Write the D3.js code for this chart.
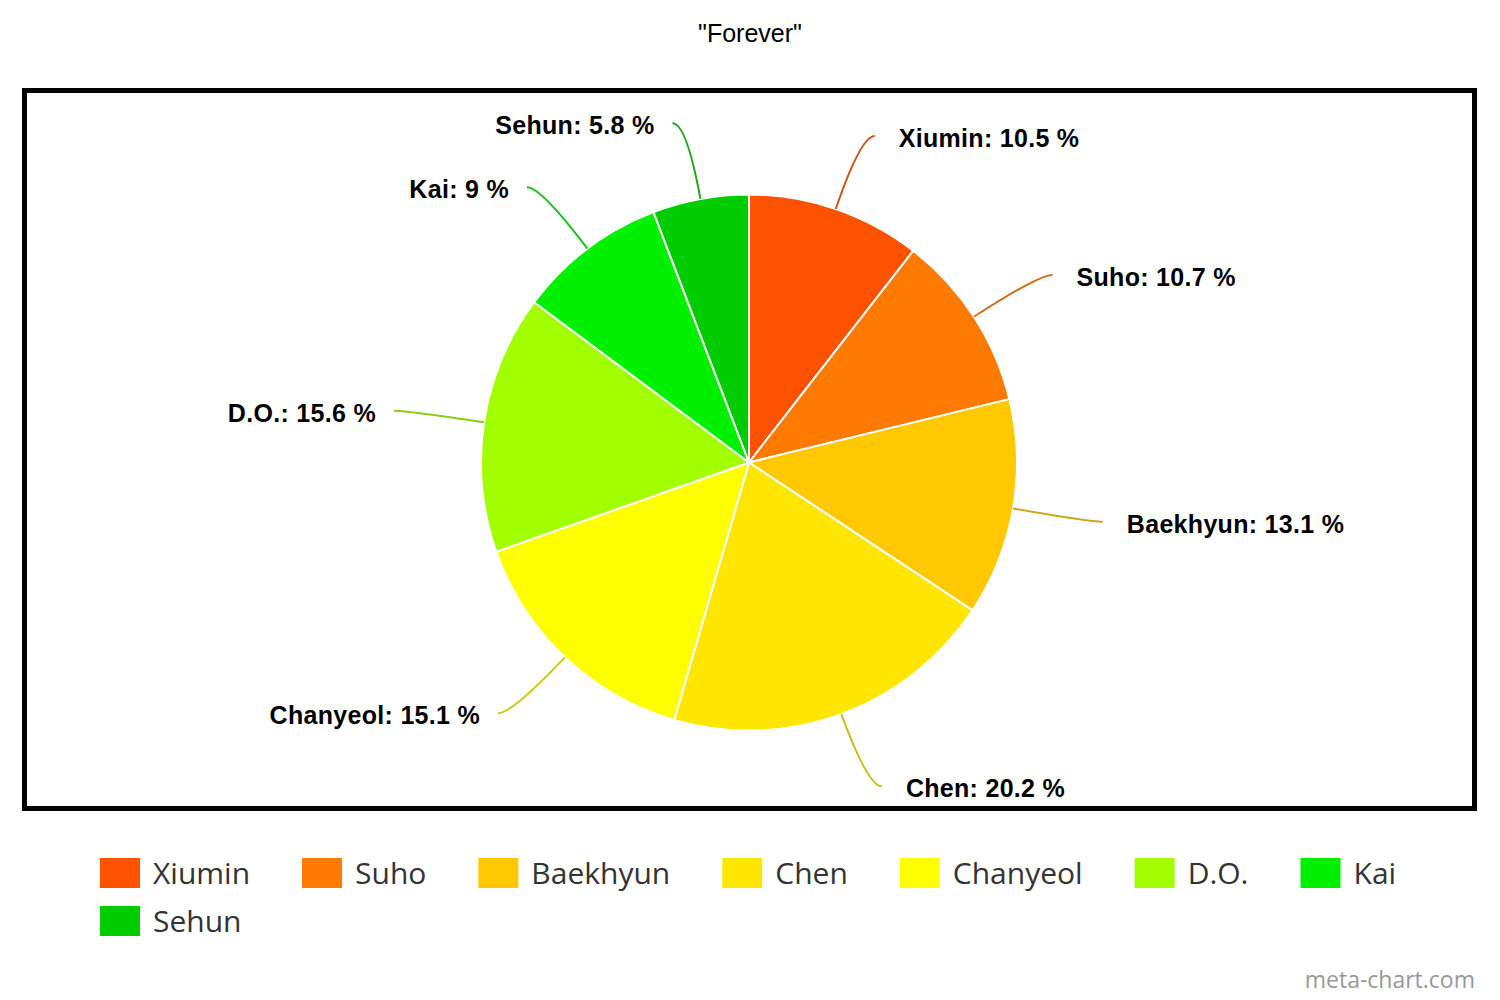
<!DOCTYPE html>
<html>
	<head>
		<title>Forever</title>

		<style>
			body
			{
				margin: 0;
				background: #ffffff;
			}

			svg
			{
				width: 1500px;
				height: 1000px;
				display: block;
			}

			.chartTitle
			{
				font: 25px "Liberation Sans", Arial, sans-serif;
				fill: #000000;
				text-anchor: middle;
			}

			.chartBorder
			{
				fill: none;
				stroke: #000000;
				stroke-width: 5px;
			}

			.slice
			{
				stroke: #ffffff;
				stroke-width: 2px;
			}

			.connector
			{
				fill: none;
				stroke-width: 2px;
			}

			.sliceLabel
			{
				font: bold 25px "Liberation Sans", Arial, sans-serif;
				fill: #000000;
				letter-spacing: 0.3px;
			}

			.legendText
			{
				font: 30px "Open Sans", sans-serif;
				fill: #333333;
			}

			.credit
			{
				font: 23px "Open Sans", sans-serif;
				fill: #999999;
				text-anchor: end;
			}
		</style>

		<script src="https://d3js.org/d3.v7.min.js"></script>
	</head>

	<body>
		<svg></svg>

		<script>
			// chart data
			var members = ["Xiumin", "Suho", "Baekhyun", "Chen", "Chanyeol", "D.O.", "Kai", "Sehun"];
			var percents = [10.5, 10.7, 13.1, 20.2, 15.1, 15.6, 9, 5.8];
			var sliceColors = ["#ff5200", "#ff7a00", "#ffc800", "#ffe600", "#ffff00", "#a2ff00", "#00f000", "#00cc00"];
			var titleText = "\"Forever\"";

			let pieChart =
			{
				cx: 749,
				cy: 462.5,
				radius: 268,
				drawChart: function()
				{
					var svg = d3.select("svg");
					svg.html("");

					svg.append("text")
					.attr("class", "chartTitle")
					.attr("x", 750)
					.attr("y", 42)
					.text(titleText);

					svg.append("rect")
					.attr("class", "chartBorder")
					.attr("x", 24.5)
					.attr("y", 90.5)
					.attr("width", 1450)
					.attr("height", 718);

					this.drawSlices(svg);
					this.drawLegend(svg);

					svg.append("text")
					.attr("class", "credit")
					.attr("x", 1475)
					.attr("y", 988)
					.text("meta-chart.com");
				},
				drawSlices: function(svg)
				{
					var r = this.radius;
					var color = d3.scaleOrdinal().domain(members).range(sliceColors);

					var pie = d3.pie()
					.sort(null)
					.value(function(d) { return d.value; });

					var arc = d3.arc().innerRadius(0).outerRadius(r);

					var rows = members.map(function(m, i)
					{
						return { name: m, value: percents[i] };
					});
					var arcs = pie(rows);

					var g = svg.append("g")
					.attr("transform", "translate(" + this.cx + "," + this.cy + ")");

					g.selectAll("path.slice")
					.data(arcs)
					.enter()
					.append("path")
					.attr("class", "slice")
					.attr("fill", function(d) { return color(d.data.name); })
					.attr("d", arc);

					// connector geometry: radial out from edge, bending to horizontal
					function geom(d)
					{
						var a = (d.startAngle + d.endAngle) / 2;
						var sx = Math.sin(a), sy = -Math.cos(a);
						var side = sx >= 0 ? 1 : -1;
						var p0 = [sx * r, sy * r];
						var c = [sx * 345, sy * 345];
						var e = [c[0] + side * 14, c[1]];
						return { p0: p0, c: c, e: e, side: side };
					}

					g.selectAll("path.connector")
					.data(arcs)
					.enter()
					.append("path")
					.attr("class", "connector")
					.attr("stroke", function(d)
					{
						// muted, slightly darker tone of the slice colour
						var base = d3.color(color(d.data.name)).darker(0.4);
						return d3.interpolateRgb(base, "#888888")(0.2);
					})
					.attr("d", function(d)
					{
						var k = geom(d);
						return "M" + k.p0[0] + "," + k.p0[1] +
							"Q" + k.c[0] + "," + k.c[1] + " " + k.e[0] + "," + k.e[1];
					});

					g.selectAll("text.sliceLabel")
					.data(arcs)
					.enter()
					.append("text")
					.attr("class", "sliceLabel")
					.attr("x", function(d)
					{
						var k = geom(d);
						return k.e[0] + (k.side > 0 ? 24 : -18);
					})
					.attr("y", function(d)
					{
						return geom(d).e[1] + 2;
					})
					.attr("dominant-baseline", "central")
					.attr("text-anchor", function(d)
					{
						return geom(d).side > 0 ? "start" : "end";
					})
					.text(function(d)
					{
						return d.data.name + ": " + d.data.value + " %";
					});
				},
				drawLegend: function(svg)
				{
					var color = d3.scaleOrdinal().domain(members).range(sliceColors);
					var x = 100, y = 858;

					members.forEach(function(m)
					{
						var item = svg.append("g");

						item.append("rect")
						.attr("x", 0)
						.attr("y", 0)
						.attr("width", 40)
						.attr("height", 30)
						.attr("fill", color(m));

						var label = item.append("text")
						.attr("class", "legendText")
						.attr("x", 53)
						.attr("y", 26)
						.text(m);

						var w = 53 + label.node().getComputedTextLength();
						if (x + w > 1460)
						{
							x = 100;
							y += 48;
						}
						item.attr("transform", "translate(" + x + "," + y + ")");
						x += w + 52;
					});
				}
			};

			pieChart.drawChart();
		</script>
	</body>
</html>
